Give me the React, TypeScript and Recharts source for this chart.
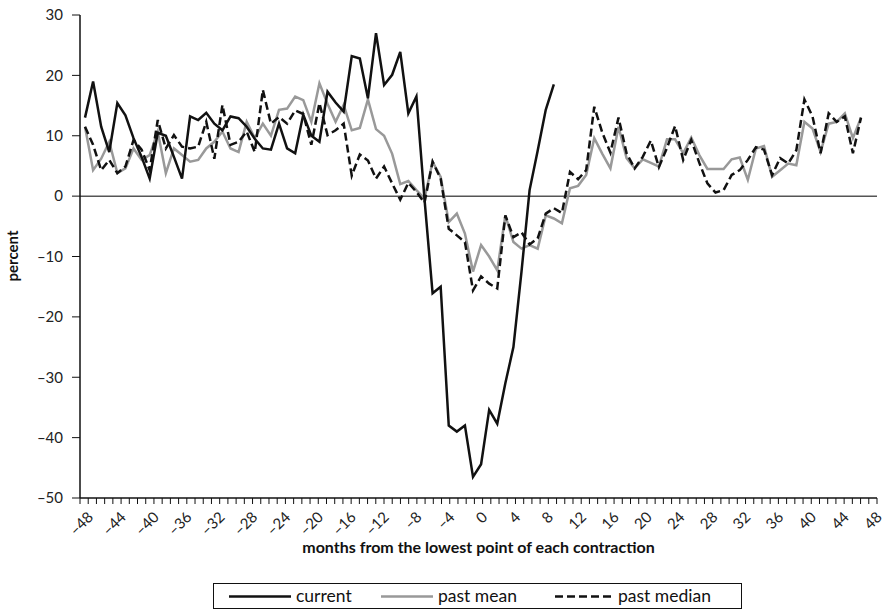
import { LineChart, Line, XAxis, YAxis, ReferenceLine } from "recharts";

// months from the lowest point of each contraction
const months = [
  -48, -47, -46, -45, -44, -43, -42, -41, -40, -39, -38, -37, -36, -35, -34, -33,
  -32, -31, -30, -29, -28, -27, -26, -25, -24, -23, -22, -21, -20, -19, -18, -17,
  -16, -15, -14, -13, -12, -11, -10, -9, -8, -7, -6, -5, -4, -3, -2, -1,
  0, 1, 2, 3, 4, 5, 6, 7, 8, 9, 10, 11, 12, 13, 14, 15,
  16, 17, 18, 19, 20, 21, 22, 23, 24, 25, 26, 27, 28, 29, 30, 31,
  32, 33, 34, 35, 36, 37, 38, 39, 40, 41, 42, 43, 44, 45, 46, 47, 48,
];

// current contraction, -48 .. 10
const current = [
  13, 19, 11.5, 7.3, 15.4, 13.4, 9.6, 6.5, 2.9, 10.5, 10, 6.5, 2.9, 13.2, 12.6, 13.8,
  12, 10.9, 13.2, 12.9, 11.5, 9.5, 7.9, 7.7, 12, 7.9, 7.1, 13.5, 10, 9, 17.3, 15.5,
  14, 23.2, 22.8, 16.2, 27, 18.4, 20.1, 23.9, 13.7, 16.5, -0.5, -16.1, -15, -38, -39, -38,
  -46.5, -44.4, -35.4, -37.7, -31, -25, -12.5, 1, 7.5, 14.3, 18.5,
];

const pastMean = [
  11.5, 4.3, 6.2, 9, 3.8, 4.6, 7.9, 6, 6.8, 10.7, 3.8, 7.9, 6.8, 5.7, 6, 7.9,
  9, 10.7, 7.9, 7.3, 12.3, 9.6, 12, 10, 14.3, 14.5, 16.5, 15.9, 12.3, 18.7, 15.3, 12.3,
  15.1, 10.9, 11.3, 16, 11.1, 10, 7, 2, 2.5, 1, -0.4, 5.7, 3.2, -4.3, -2.9, -6.2,
  -12.5, -8.1, -10, -12.3, -3.2, -7.6, -8.7, -8.1, -8.7, -3.2, -3.7, -4.5, 1.3, 1.7, 3.5, 9.6,
  7, 4.6, 11.5, 6.3, 4.6, 6.1, 5.5, 4.9, 9.4, 9.4, 7.1, 9.7, 6.8, 4.5, 4.5, 4.5,
  6.1, 6.4, 2.7, 7.9, 8.3, 3.2, 4.3, 5.4, 5.1, 12.3, 11.2, 7.3, 12, 12.3, 13.7, 9.6, 13,
];

const pastMedian = [
  11.5, 8.5, 4.3, 6, 3.8, 4.9, 9.3, 7.7, 4.3, 12.6, 7.9, 10.1, 8.2, 7.9, 8.2, 12.3,
  6.2, 15.1, 8.5, 9, 10.7, 7.3, 17.6, 12, 13.1, 12, 14.2, 13.6, 8.5, 15.4, 10.1, 10.9,
  12, 3.4, 6.9, 5.9, 2.9, 4.9, 2.1, -0.6, 2.2, 0.7, -1.1, 5.7, 2.9, -5.4, -6.5, -7.6,
  -15.6, -13.3, -14.5, -15.3, -3.2, -6.8, -6, -8, -7, -2.9, -2, -2.8, 4, 2.8, 4.3, 14.8,
  10.5, 7.2, 13, 7.1, 4.6, 6.5, 9.2, 4.8, 8, 11.6, 6, 9.3, 5.5, 2.1, 0.6, 1,
  3.5, 4.3, 6, 8.1, 7.7, 3.5, 6.3, 5.4, 7.6, 16, 13.2, 7.1, 13.7, 12.3, 13.2, 7.1, 13,
];

const yTicks = [-50, -40, -30, -20, -10, 0, 10, 20, 30];
const xLabelMonths = [
  -48, -44, -40, -36, -32, -28, -24, -20, -16, -12, -8, -4, 0,
  4, 8, 12, 16, 20, 24, 28, 32, 36, 40, 44, 48,
];

const FONT = "Lato, 'Open Sans', sans-serif";
const X_MIN = -48.62;
const X_MAX = 49.98;
const PLOT_WIDTH = 797;
const BANDS = months.length;
const bandUnits = (X_MAX - X_MIN) / BANDS;
const boundaryTicks = Array.from({ length: BANDS + 1 }, (_, i) => X_MIN + i * bandUnits);

const data = months.map((m, i) => ({
  m,
  current: i < current.length ? current[i] : null,
  mean: pastMean[i],
  median: pastMedian[i],
}));

const dash = (v: number) => (v < 0 ? `\u2013${-v}` : `${v}`);

// minor tick at every month boundary, rotated label every 4 months
function renderXTick(props: any) {
  const { x, y, index } = props;
  const bandPx = PLOT_WIDTH / BANDS;
  const cat = months[index];
  const show = cat !== undefined && xLabelMonths.includes(cat);
  const lx = x + bandPx / 2 + 10;
  const ly = y + 20;
  return (
    <g>
      <line x1={x} y1={y} x2={x} y2={y + 6} stroke="#111" strokeWidth={1} />
      {show && (
        <text
          x={lx}
          y={ly}
          textAnchor="end"
          transform={`rotate(-45 ${lx} ${ly})`}
          fontSize={15}
          fill="#222"
          fontFamily={FONT}
        >
          {dash(cat)}
        </text>
      )}
    </g>
  );
}

function Legend() {
  const text = { position: "absolute" as const, top: 1, fontSize: 17.5, fontFamily: FONT, color: "#111", lineHeight: "22px" };
  return (
    <div
      style={{
        position: "absolute",
        left: 213,
        top: 583,
        width: 529,
        height: 26,
        border: "1px solid #111",
        boxSizing: "border-box",
        background: "#fff",
      }}
    >
      <svg width={527} height={24} style={{ position: "absolute", left: 0, top: 0 }}>
        <line x1={15} x2={77} y1={12.5} y2={12.5} stroke="#111" strokeWidth={2.5} />
        <line x1={167} x2={219} y1={12.5} y2={12.5} stroke="#999" strokeWidth={2.5} />
        <line x1={341} x2={399} y1={12.5} y2={12.5} stroke="#111" strokeWidth={2.5} strokeDasharray="8 4" />
      </svg>
      <span style={{ ...text, left: 82 }}>current</span>
      <span style={{ ...text, left: 224 }}>past mean</span>
      <span style={{ ...text, left: 404 }}>past median</span>
    </div>
  );
}

export default function App() {
  return (
    <div style={{ position: "absolute", left: 0, top: 0, width: 889, height: 614, background: "#fff" }}>
      <LineChart
        width={889}
        height={614}
        data={data}
        margin={{ top: 15, right: 12, left: 0, bottom: 56 }}
      >
        <XAxis
          dataKey="m"
          type="number"
          domain={[X_MIN, X_MAX]}
          ticks={boundaryTicks}
          interval={0}
          tickSize={0}
          tickMargin={0}
          tickLine={false}
          tick={renderXTick}
          height={60}
          axisLine={{ stroke: "#111", strokeWidth: 1.5 }}
          allowDataOverflow
          label={{
            value: "months from the lowest point of each contraction",
            position: "insideBottom",
            offset: 5,
            fontSize: 16,
            fontWeight: 700,
            fontFamily: FONT,
            fill: "#111",
          }}
        />
        <YAxis
          type="number"
          domain={[-50, 30]}
          ticks={yTicks}
          interval={0}
          width={80}
          tickSize={8}
          tickMargin={9}
          tickFormatter={dash}
          tick={{ fontSize: 15, fontFamily: FONT, fill: "#222" }}
          tickLine={{ stroke: "#111", strokeWidth: 1 }}
          axisLine={{ stroke: "#111", strokeWidth: 1.5 }}
          allowDataOverflow
          label={{
            content: () => (
              <text
                x={14}
                y={256}
                transform="rotate(-90 14 256)"
                textAnchor="middle"
                dominantBaseline="middle"
                fontSize={15}
                fontWeight={700}
                fontFamily={FONT}
                fill="#111"
              >
                percent
              </text>
            ),
          }}
        />
        <ReferenceLine y={0} stroke="#555" strokeWidth={1.5} />
        <Line
          dataKey="mean"
          stroke="#999"
          strokeWidth={2.5}
          dot={false}
          isAnimationActive={false}
        />
        <Line
          dataKey="median"
          stroke="#111"
          strokeWidth={2.5}
          strokeDasharray="8 4"
          dot={false}
          isAnimationActive={false}
        />
        <Line
          dataKey="current"
          stroke="#111"
          strokeWidth={2.5}
          dot={false}
          isAnimationActive={false}
        />
      </LineChart>
      <Legend />
    </div>
  );
}
